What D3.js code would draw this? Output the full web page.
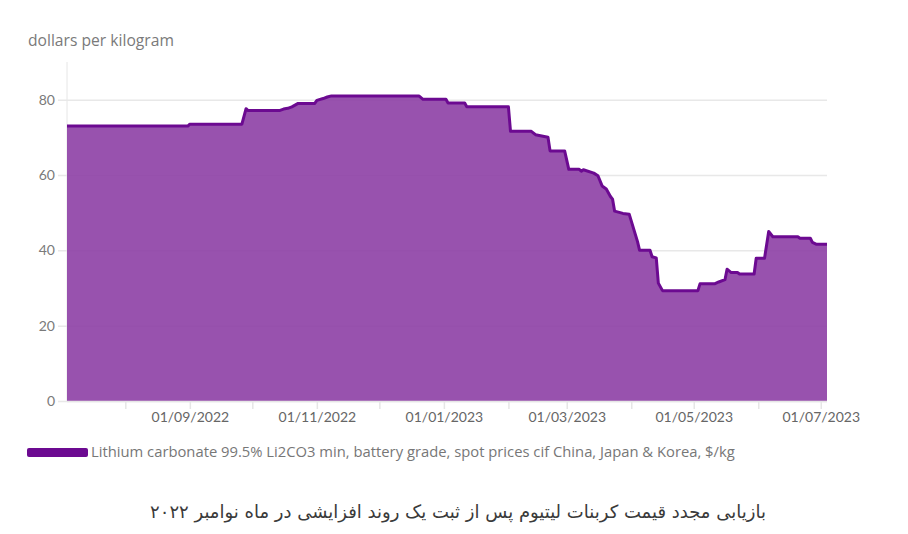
<!DOCTYPE html>
<html>
<head>
<meta charset="utf-8">
<script src="https://cdn.jsdelivr.net/npm/d3@7"></script>
<style>
  html, body { margin: 0; padding: 0; background: #fff; }
  svg { display: block; }
  text { font-family: "Open Sans", Lato, "Noto Sans", sans-serif; }
</style>
</head>
<body>
<svg id="chart" width="908" height="534"></svg>
<script>
// ---- data ----
const dates = [
  "2022-07-04","2022-08-31","2022-09-01","2022-09-26","2022-09-28","2022-09-29",
  "2022-10-14","2022-10-16","2022-10-18","2022-10-20","2022-10-23","2022-10-31",
  "2022-11-01","2022-11-04","2022-11-06","2022-11-08","2022-12-20","2022-12-22",
  "2023-01-02","2023-01-03","2023-01-11","2023-01-12","2023-02-01","2023-02-02",
  "2023-02-12","2023-02-14","2023-02-20","2023-02-21","2023-02-28","2023-03-02",
  "2023-03-07","2023-03-08","2023-03-09","2023-03-14","2023-03-16","2023-03-18",
  "2023-03-20","2023-03-22","2023-03-23","2023-03-24","2023-03-28","2023-03-31",
  "2023-04-04","2023-04-05","2023-04-10","2023-04-11","2023-04-13","2023-04-14",
  "2023-04-16","2023-05-03","2023-05-04","2023-05-11","2023-05-13","2023-05-16",
  "2023-05-17","2023-05-19","2023-05-22","2023-05-23","2023-05-30","2023-05-31",
  "2023-06-04","2023-06-06","2023-06-08","2023-06-20","2023-06-21","2023-06-26",
  "2023-06-27","2023-06-29","2023-07-04"
];
const prices = [
  73, 73, 73.5, 73.5, 77.6, 77.1,
  77.1, 77.5, 77.7, 78.1, 79, 79,
  79.8, 80.3, 80.7, 81, 81, 80.1,
  80.1, 79.1, 79.1, 78.1, 78.1, 71.6,
  71.6, 70.7, 70, 66.4, 66.4, 61.5,
  61.5, 61, 61.4, 60.5, 59.8, 57.1,
  56.3, 54.3, 53.6, 50.4, 49.8, 49.6,
  42.3, 40, 40, 38.3, 38, 31.3,
  29.3, 29.3, 31.1, 31.1, 31.6, 32.2,
  35, 34.1, 34.1, 33.7, 33.7, 37.9,
  37.9, 45, 43.6, 43.6, 43.2, 43.2,
  42.1, 41.6, 41.6
];
const yTicks = [0, 20, 40, 60, 80];
const xTickDates = ["2022-08-01","2022-09-01","2022-10-01","2022-11-01","2022-12-01","2023-01-01",
  "2023-02-01","2023-03-01","2023-04-01","2023-05-01","2023-06-01","2023-07-01"];
const xLabelDates = ["2022-09-01","2022-11-01","2023-01-01","2023-03-01","2023-05-01","2023-07-01"];
const yTitle = "dollars per kilogram";
const seriesName = "Lithium carbonate 99.5% Li2CO3 min, battery grade, spot prices cif China, Japan & Korea, $/kg";
const caption = "بازیابی مجدد قیمت کربنات لیتیوم پس از ثبت یک روند افزایشی در ماه نوامبر ۲۰۲۲";

// ---- chart ----
(function () {
const parse = d3.utcParse("%Y-%m-%d");
const fmt = d3.utcFormat("%d/%m/%Y");
const data = dates.map((d, i) => ({ date: parse(d), value: prices[i] }));

const svg = d3.select("#chart");
const mLeft = 67, mRight = 827, mTop = 62, mBottom = 401;

// scale a text's font size so it spans a target width
function fitWidth(sel, target) {
  const fs = parseFloat(sel.attr("font-size"));
  const w = sel.node().getComputedTextLength();
  if (w > 0) sel.attr("font-size", (fs * target / w).toFixed(2));
}

const x = d3.scaleUtc()
  .domain([parse("2022-07-04"), parse("2023-07-04")])
  .range([mLeft, mRight]);
const y = d3.scaleLinear().domain([0, 90]).range([mBottom, mTop]);

const lineColor = "#6c0a91";

// y-axis vertical line
svg.append("line")
  .attr("x1", mLeft).attr("x2", mLeft)
  .attr("y1", mTop).attr("y2", mBottom)
  .attr("stroke", "#e6e6e6").attr("stroke-width", 1);

// gridlines + y labels
const yAxis = d3.axisLeft(y).tickValues(yTicks).tickSize(-(mRight - 58)).tickPadding(3);
const gy = svg.append("g").attr("transform", `translate(58,0)`).call(yAxis);
gy.select(".domain").remove();
gy.selectAll(".tick line").attr("stroke", "#e8e8e8").attr("stroke-width", 1.5);
gy.selectAll(".tick text")
  .attr("fill", "#7a7a7a").attr("font-size", 14).attr("x", -3)
  .style("font-family", "Lato, sans-serif");

// area + line
const area = d3.area()
  .x(d => x(d.date)).y0(y(0)).y1(d => y(d.value));
svg.append("path").datum(data)
  .attr("d", area)
  .attr("fill", "#8a3aa3").attr("fill-opacity", 0.88);

const line = d3.line().x(d => x(d.date)).y(d => y(d.value));
svg.append("path").datum(data)
  .attr("d", line)
  .attr("fill", "none")
  .attr("stroke", lineColor).attr("stroke-width", 3)
  .attr("stroke-linejoin", "round");

// x axis
const xAxis = d3.axisBottom(x)
  .tickValues(xTickDates.map(parse))
  .tickSize(8)
  .tickFormat(d => xLabelDates.includes(d3.utcFormat("%Y-%m-%d")(d)) ? fmt(d) : "");
const gx = svg.append("g").attr("transform", `translate(0,${mBottom})`).call(xAxis);
gx.select(".domain").attr("stroke", "#e6e6e6").attr("stroke-width", 1.5)
  .attr("d", `M${mLeft},0.5H${mRight}`);
gx.selectAll(".tick line").attr("stroke", "#e6e6e6").attr("stroke-width", 1.5);
gx.selectAll(".tick text")
  .attr("fill", "#666").attr("font-size", 14).attr("dy", "0.95em").attr("y", 8)
  .style("font-family", "Lato, sans-serif");

// y title
const title = svg.append("text")
  .attr("x", 28).attr("y", 46)
  .attr("fill", "#7a7a7a").attr("font-size", 14.5)
  .text(yTitle);
fitWidth(title, 146);

// legend
svg.append("rect")
  .attr("x", 27).attr("y", 448).attr("width", 61).attr("height", 9).attr("rx", 2)
  .attr("fill", lineColor);
const leg = svg.append("text")
  .attr("x", 91).attr("y", 457)
  .attr("fill", "#777").attr("font-size", 13)
  .text(seriesName);
fitWidth(leg, 644);

// caption
svg.append("text")
  .attr("x", 458).attr("y", 518)
  .attr("text-anchor", "middle")
  .attr("direction", "rtl")
  .attr("fill", "#3a3a3a").attr("font-size", 18)
  .style("font-family", "'DejaVu Sans', sans-serif")
  .text(caption);
})();
</script>
</body>
</html>
